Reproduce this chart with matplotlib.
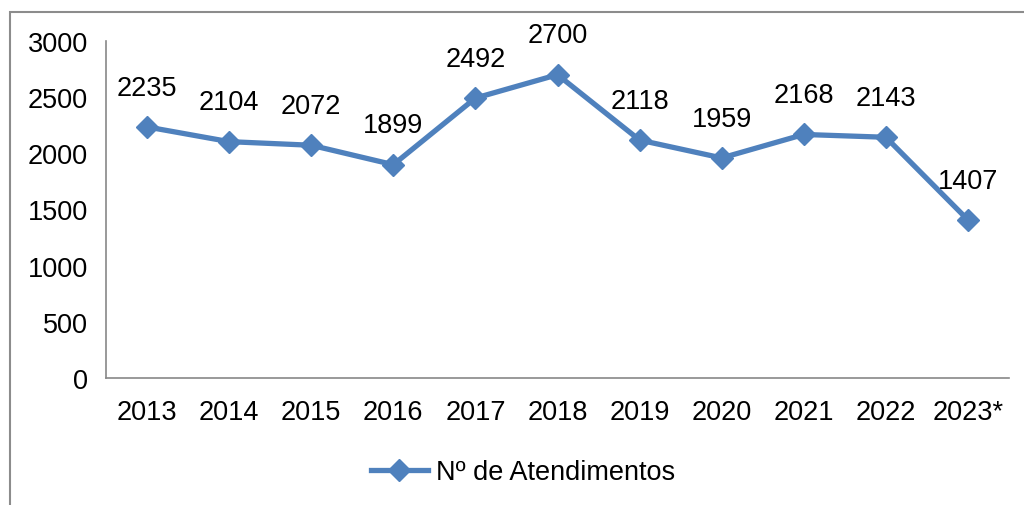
import matplotlib.pyplot as plt
import numpy as np

plt.rcParams['font.family'] = ['Liberation Sans', 'DejaVu Sans']

anos = ["2013", "2014", "2015", "2016", "2017", "2018", "2019", "2020", "2021", "2022", "2023*"]
atendimentos = [2235, 2104, 2072, 1899, 2492, 2700, 2118, 1959, 2168, 2143, 1407]

cor = '#4F81BD'
fs = 19.5

fig = plt.figure(figsize=(10.24, 5.06), dpi=100)
ax = fig.add_axes([106/1024, 1 - 379/506, (1009-106)/1024, (379-42)/506])

x = np.arange(len(anos))
linha, = ax.plot(x, atendimentos, color=cor, lw=3.8, marker='D', ms=11,
                 label='Nº de Atendimentos')

for xi, v in zip(x, atendimentos):
    ax.annotate(str(v), (xi, v), xytext=(0, 19), textcoords='offset points',
                ha='center', va='bottom', fontsize=fs)

ax.set_xlim(-0.5, len(anos) - 0.5)
ax.set_ylim(0, 3000)
ax.set_yticks(np.arange(0, 3001, 500))
ax.set_xticks(x)
ax.set_xticklabels(anos)
ax.tick_params(axis='both', length=0, labelsize=fs)
ax.tick_params(axis='y', pad=13)
ax.tick_params(axis='x', pad=15)
for s in ['top', 'right']:
    ax.spines[s].set_visible(False)
for s in ['left', 'bottom']:
    ax.spines[s].set_color('#888888')
    ax.spines[s].set_linewidth(1.2)

fig.legend(handles=[linha], loc='center', bbox_to_anchor=(523/1024, 1 - 473/506),
           frameon=False, fontsize=fs, handlelength=2.1, handletextpad=0.3)

# moldura cinza
borda = plt.Rectangle((10/1024, -0.1), 1.2, 1 - 13/506 + 0.1, transform=fig.transFigure,
                      fill=False, edgecolor='#8c8c8c', lw=1.5)
fig.add_artist(borda)

plt.savefig("out.png", dpi=100)
